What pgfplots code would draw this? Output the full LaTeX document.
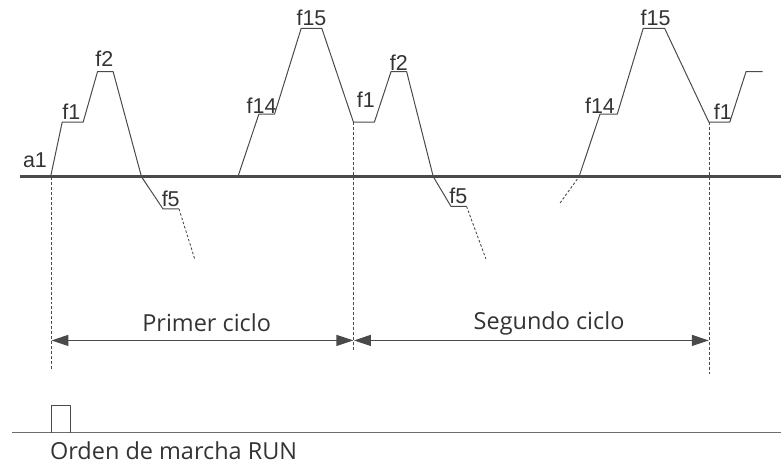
\documentclass[border=0pt]{standalone}
\usepackage{fontspec}
\setmainfont{Liberation Sans}
\newfontfamily\segoe{Open Sans}
\usepackage{pgfplots}
\pgfplotsset{compat=1.18}
\usetikzlibrary{arrows.meta}
\definecolor{wave}{HTML}{4A4A4A}
\definecolor{txt}{HTML}{333333}
\tikzset{
 lbl/.style={anchor=base, text=txt, font=\fontsize{21.5bp}{25bp}\selectfont, inner sep=0pt},
 big/.style={anchor=base, text=txt, font=\segoe\fontsize{23.5bp}{28bp}\selectfont, inner sep=0pt},
}
\begin{document}
\begin{tikzpicture}[x=1bp,y=1bp]
\begin{axis}[
 width=782bp, height=466bp, scale only axis,
 xmin=0,xmax=782,ymin=0,ymax=466, y dir=reverse,
 hide axis, clip=false,
 every axis plot/.append style={line join=round, mark=none},
]
\addplot[draw=none] coordinates {(0,0) (782,466)};
% baseline
\addplot[color=wave, line width=2.6bp] coordinates {(20,177) (782,177)};
% waveform, first cycle
\addplot[color=wave, line width=1bp] coordinates {
 (50.7,177) (62.3,122.3) (83.3,122.3) (97.7,71.7) (113.3,71.7)
 (141.7,177) (163.3,209.3) (179.3,209.3)};
\addplot[color=wave, line width=0.9bp, dash pattern=on 2.5bp off 2bp] coordinates {(179.3,209.3) (195,259.3)};
\addplot[color=wave, line width=1bp] coordinates {
 (238.3,177) (259.3,114.3) (275,114.3) (301.7,28.3) (322.3,28.3)
 (354,122.3) (375,122.3) (391.7,71.7) (407.3,71.7)
 (434,177) (451.7,206.7) (467.3,206.7)};
\addplot[color=wave, line width=0.9bp, dash pattern=on 2.5bp off 2bp] coordinates {(467.3,206.7) (486.7,259.3)};
\addplot[color=wave, line width=0.9bp, dash pattern=on 2.5bp off 2bp] coordinates {(561,203.3) (580,177)};
\addplot[color=wave, line width=1bp] coordinates {
 (580,177) (601,114.3) (618.3,114.3) (644.3,28.3) (665.7,28.3)
 (710,122.3) (731,122.3) (747.3,71.7) (764,71.7)};
% vertical dashed markers
\addplot[color=wave, line width=0.9bp, dash pattern=on 3bp off 2bp] coordinates {(51.2,177) (51.2,370)};
\addplot[color=wave, line width=0.9bp, dash pattern=on 3bp off 2bp] coordinates {(354.2,122.3) (354.2,352)};
\addplot[color=wave, line width=0.9bp, dash pattern=on 3bp off 2bp] coordinates {(710.3,122.3) (710.3,375)};
% cycle arrows
\addplot[color=wave, line width=1.2bp, {Triangle[length=17bp,width=11bp]}-{Triangle[length=17bp,width=11bp]}] coordinates {(51.5,341) (354,341)};
\addplot[color=wave, line width=1.2bp, {Triangle[length=17bp,width=11bp]}-{Triangle[length=17bp,width=11bp]}] coordinates {(354.5,341) (710,341)};
% RUN command
\addplot[color=gray!85!black, line width=1.4bp] coordinates {(12,433.3) (782,433.3)};
\addplot[color=wave, line width=1bp] coordinates {(51.7,433.3) (51.7,406) (70.3,406) (70.3,433.3)};
% labels
\node[lbl] at (axis cs:35,168) {a1};
\node[lbl] at (axis cs:71.5,120) {f1};
\node[lbl] at (axis cs:104.5,66.7) {f2};
\node[lbl] at (axis cs:171,207.3) {f5};
\node[lbl] at (axis cs:262,113.3) {f14};
\node[lbl] at (axis cs:312,26) {f15};
\node[lbl] at (axis cs:366.5,107.3) {f1};
\node[lbl] at (axis cs:399.5,70.7) {f2};
\node[lbl] at (axis cs:459,204) {f5};
\node[lbl] at (axis cs:601,113.3) {f14};
\node[lbl] at (axis cs:656.7,26) {f15};
\node[lbl] at (axis cs:724,120) {f1};
\node[big] at (axis cs:207,332.5) {Primer ciclo};
\node[big] at (axis cs:550,330.5) {Segundo ciclo};
\node[big, anchor=base west] at (axis cs:50,460) {Orden de marcha RUN};
\end{axis}
\end{tikzpicture}
\end{document}
